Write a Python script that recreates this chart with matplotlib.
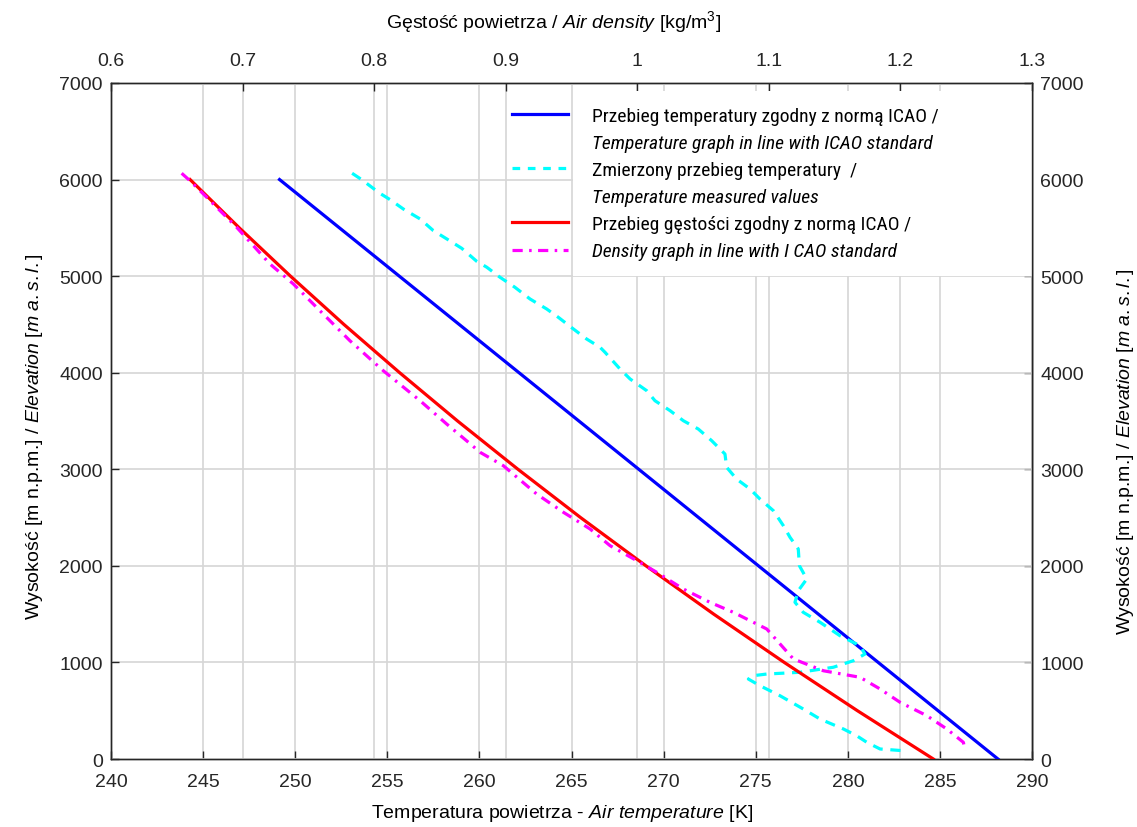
import matplotlib
matplotlib.use("Agg")
import matplotlib.pyplot as plt
from matplotlib.lines import Line2D
from matplotlib.patches import Rectangle

# ICAO standard atmosphere, temperature [K] vs elevation [m]
icao_temp_h = [0, 6000]
icao_temp = [288.15, 249.15]

# ICAO standard atmosphere, air density [kg/m3]
icao_dens_h = [0, 500, 1000, 1500, 2000, 2500, 3000, 3500, 4000, 4500, 5000, 5500, 6000]
icao_dens = [1.2250, 1.1673, 1.1117, 1.0581, 1.0066, 0.9569, 0.9093, 0.8634,
             0.8194, 0.7770, 0.7364, 0.6975, 0.6601]

# measured temperature profile [K]
meas_temp_h = [6065, 5999, 5861, 5792, 5695, 5592, 5471, 5385, 5288, 5154, 5092, 4988,
               4884, 4763, 4660, 4574, 4453, 4349, 4263, 4211, 4039, 3935, 3814,
               3710, 3607, 3503, 3417, 3296, 3158, 3021, 2899, 2796, 2692, 2571,
               2416, 2296, 2175, 2002, 1864, 1743, 1623, 1519, 1416, 1277, 1173,
               1087, 1018, 950, 898, 880, 863, 828, 759, 655, 518, 414, 311, 241,
               173, 104, 86]
meas_temp = [253.09, 253.61, 254.57, 255.15, 255.87, 256.78, 257.50, 258.23, 259.04,
             259.85, 260.40, 261.12, 261.93, 262.75, 263.65, 264.28, 265.10, 265.82,
             266.55, 266.82, 267.63, 268.18, 269.08, 269.53, 270.35, 271.07, 271.88,
             272.61, 273.33, 273.42, 273.96, 274.69, 275.23, 275.96, 276.50, 276.86,
             277.31, 277.37, 277.77, 277.31, 277.13, 277.58, 278.49, 279.57, 280.66,
             280.93, 280.30, 279.21, 277.40, 275.60, 274.87, 274.60, 275.23, 276.32,
             277.58, 278.49, 279.76, 280.48, 281.03, 281.75, 283.01]

# density computed from measurements [kg/m3]
meas_dens_h = [6065, 5988, 5851, 5506, 5126, 4919, 4642, 4331, 4020, 3710, 3469,
               3280, 3176, 3037, 2744, 2555, 2382, 2209, 2054, 1933, 1760, 1622,
               1519, 1346, 1036, 914, 846, 725, 587, 449, 311, 173, 86]
meas_dens = [0.6537, 0.6600, 0.6702, 0.6955, 0.7208, 0.7386, 0.7588, 0.7816,
             0.8070, 0.8349, 0.8551, 0.8716, 0.8805, 0.8982, 0.9235, 0.9438,
             0.9641, 0.9793, 0.9996, 1.0148, 1.0350, 1.0553, 1.0730, 1.0984,
             1.1186, 1.1414, 1.1693, 1.1845, 1.1997, 1.2200, 1.2352, 1.2478, 1.2491]

temp_ticks = list(range(240, 291, 5))
dens_ticks = [0.6, 0.7, 0.8, 0.9, 1.0, 1.1, 1.2, 1.3]
dens_ticklabels = ["0.6", "0.7", "0.8", "0.9", "1", "1.1", "1.2", "1.3"]
elev_ticks = list(range(0, 7001, 1000))

legend_labels = [
    "Przebieg temperatury zgodny z normą ICAO /",
    "Temperature graph in line with ICAO standard",
    "Zmierzony przebieg temperatury  /",
    "Temperature measured values",
    "Przebieg gęstości zgodny z normą ICAO /",
    "Density graph in line with I CAO standard",
]

FONT = "Liberation Sans"
NARROW = ["Roboto Condensed", "Archivo Narrow", "Liberation Sans"]
plt.rcParams["font.family"] = [FONT, "DejaVu Sans"]
plt.rcParams["mathtext.fontset"] = "custom"
plt.rcParams["mathtext.rm"] = FONT
plt.rcParams["mathtext.it"] = FONT + ":italic"

INK = "#262626"
GRID = "#d6d6d6"
BLUE, CYAN, RED, MAGENTA = "#0000ff", "#00ffff", "#ff0000", "#ff00ff"
DASH = (3.2, 2.4)
DASHDOT = (3.2, 2.0, 0.8, 2.0)


def it(s):
    return r"$\mathit{" + s.replace(" ", r"\ ") + "}$"


fig = plt.figure(figsize=(11.37, 8.28), dpi=100, facecolor="white")
ax = fig.add_axes([0.0976, 0.0821, 0.8101, 0.8165])
axt = ax.twiny()
# density axis sits underneath so the legend box can hide its grid
axt.set_zorder(ax.get_zorder() - 1)
axt.patch.set_visible(True)
axt.patch.set_facecolor("white")
ax.patch.set_visible(False)

ax.set_xlim(240, 290)
ax.set_ylim(0, 7000)
axt.set_xlim(0.6, 1.3)

ax.set_axisbelow(True)
ax.grid(True, color=GRID, lw=1.2)
axt.grid(True, axis="x", color=GRID, lw=1.2)

ax.add_patch(Rectangle((265.1, 5000), 24.9, 1920, facecolor="white",
                       edgecolor="none", zorder=1))

lw = 2.3
ax.plot(icao_temp, icao_temp_h, color=BLUE, lw=lw, zorder=3)
ax.plot(meas_temp, meas_temp_h, color=CYAN, lw=lw, dashes=DASH, zorder=3)
ax.plot(icao_dens, icao_dens_h, color=RED, lw=lw, zorder=3,
        transform=axt.transData)
ax.plot(meas_dens, meas_dens_h, color=MAGENTA, lw=lw, dashes=DASHDOT,
        zorder=3, transform=axt.transData)
ax.set_xlim(240, 290)
ax.set_ylim(0, 7000)

ax.set_xticks(temp_ticks)
ax.set_yticks(elev_ticks)
axt.set_xticks(dens_ticks)
axt.set_xticklabels(dens_ticklabels)

right = ax.secondary_yaxis("right")
right.set_yticks(elev_ticks)

for a in (ax, axt, right):
    a.tick_params(direction="in", length=6, width=1, colors=INK, labelsize=14,
                  pad=6)
    for sp in a.spines.values():
        sp.set_color(INK)
        sp.set_linewidth(1)
ax.tick_params(top=False)
ax.tick_params(axis="x", pad=10)
axt.tick_params(axis="x", pad=10)

lab = dict(fontsize=14, color="black")
ax.set_xlabel("Temperatura powietrza - " + it("Air temperature") + " [K]",
              labelpad=9, **lab)
axt.set_xlabel("Gęstość powietrza / " + it("Air density") + r" [kg/m$^3$]",
               labelpad=18, **lab)
ax.xaxis.label.set_x(0.49)
axt.xaxis.label.set_x(0.48)
ylab = "Wysokość [m n.p.m.] / " + it("Elevation [m a.s.l.]")
ax.set_ylabel(ylab, labelpad=10, **lab)
right.set_ylabel(ylab, labelpad=22, **lab)
ax.yaxis.label.set_y(0.479)
right.yaxis.label.set_y(0.456)

blank = Line2D([], [], color="none")
handles = [
    Line2D([], [], color=BLUE, lw=lw), blank,
    Line2D([], [], color=CYAN, lw=lw, dashes=(2.4, 2.4)), blank,
    Line2D([], [], color=RED, lw=lw),
    Line2D([], [], color=MAGENTA, lw=lw, dashes=DASHDOT),
]
leg = ax.legend(handles, legend_labels, loc="upper left",
                bbox_to_anchor=(0.4354, 0.965), frameon=False,
                prop=dict(family=NARROW, size=14),
                handlelength=2.9, handletextpad=1.2, labelspacing=0.47,
                borderpad=0, borderaxespad=0)
leg.set_zorder(5)
for i in (1, 3, 5):
    leg.get_texts()[i].set_fontstyle("italic")

fig.savefig("out.png", dpi=100, facecolor="white")
